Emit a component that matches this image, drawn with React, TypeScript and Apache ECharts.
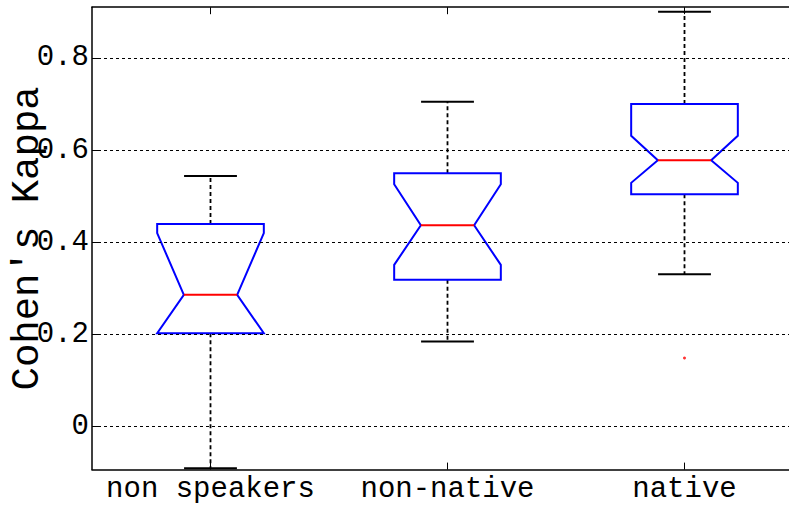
import React, { useEffect, useRef } from 'react';
import * as echarts from 'echarts';

const categories = ['non speakers', 'non-native', 'native'];
const whiskerLow = [-0.09, 0.185, 0.331];
const q1 = [0.203, 0.319, 0.504];
const notchLow = [0.203, 0.351, 0.529];
const median = [0.286, 0.437, 0.578];
const notchHigh = [0.42, 0.526, 0.631];
const q3 = [0.44, 0.55, 0.7];
const whiskerHigh = [0.544, 0.705, 0.9];
const outliers: [number, number][] = [[2, 0.149]];
const yTicks = [0, 0.2, 0.4, 0.6, 0.8];
const yMin = -0.093;
const yMax = 0.91;

const FONT = "'Liberation Mono', 'Courier New', 'DejaVu Sans Mono', monospace";

export default function App() {
  const ref = useRef<HTMLDivElement>(null);
  useEffect(() => {
    document.body.style.margin = '0';
    const chart = echarts.init(ref.current!, null, { renderer: 'svg' });
    const boxData = categories.map((_, i) => [
      i, whiskerLow[i], q1[i], notchLow[i], median[i], notchHigh[i], q3[i], whiskerHigh[i],
    ]);
    const renderItem = (params: any, api: any) => {
      const idx = api.value(0);
      const cx = api.coord([idx, 0])[0];
      const band = api.size([1, 0])[0];
      const y = (v: number) => api.coord([idx, v])[1];
      const hw = band * 0.225;
      const nIn = hw / 2;
      const capW = band * 0.1115;
      const L = cx - hw;
      const R = cx + hw;
      const wLo = y(api.value(1));
      const yq1 = y(api.value(2));
      const nLo = y(api.value(3));
      const med = y(api.value(4));
      const nHi = y(api.value(5));
      const yq3 = y(api.value(6));
      const wHi = y(api.value(7));
      const dashStyle = { stroke: '#000', lineWidth: 1.8, lineDash: [4, 3], fill: null };
      const capStyle = { stroke: '#000', lineWidth: 2 };
      return {
        type: 'group',
        children: [
          { type: 'line', shape: { x1: cx, y1: yq1, x2: cx, y2: wLo }, style: dashStyle },
          { type: 'line', shape: { x1: cx, y1: yq3, x2: cx, y2: wHi }, style: dashStyle },
          { type: 'line', shape: { x1: cx - capW, y1: wLo, x2: cx + capW, y2: wLo }, style: capStyle },
          { type: 'line', shape: { x1: cx - capW, y1: wHi, x2: cx + capW, y2: wHi }, style: capStyle },
          {
            type: 'polygon',
            shape: {
              points: [
                [L, yq1], [R, yq1], [R, nLo], [R - nIn, med], [R, nHi], [R, yq3],
                [L, yq3], [L, nHi], [L + nIn, med], [L, nLo],
              ],
            },
            style: { stroke: '#0000ff', lineWidth: 2, fill: null },
          },
          { type: 'line', shape: { x1: L + nIn, y1: med, x2: R - nIn, y2: med }, style: { stroke: '#ff0000', lineWidth: 2 } },
        ],
      };
    };
    const xAxisCommon = {
      type: 'category',
      data: categories,
      boundaryGap: true,
      axisLine: { show: true, onZero: false, lineStyle: { color: '#000', width: 1.5 } },
      axisTick: { show: true, inside: true, alignWithLabel: true, length: 7, lineStyle: { color: '#000', width: 1 } },
      splitLine: { show: false },
    };
    chart.setOption({
      animation: false,
      grid: { left: 92, top: 7.2, width: 711, height: 462.4, containLabel: false, outerBoundsMode: 'none' },
      xAxis: [
        {
          ...xAxisCommon,
          position: 'bottom',
          axisLabel: { show: true, interval: 0, hideOverlap: false, fontSize: 29, color: '#000', margin: 5, fontFamily: FONT },
        },
        {
          ...xAxisCommon,
          position: 'top',
          axisLabel: { show: false },
        },
      ],
      yAxis: {
        type: 'value',
        min: yMin,
        max: yMax,
        name: "Cohen's Kappa",
        nameLocation: 'middle',
        nameRotate: 90,
        nameGap: 45,
        nameMoveOverlap: false,
        nameTextStyle: { fontSize: 39, color: '#000', fontFamily: FONT },
        axisLine: { show: true, onZero: false, lineStyle: { color: '#000', width: 1.5 } },
        axisTick: { show: true, inside: true, length: 7, customValues: yTicks, lineStyle: { color: '#000', width: 1 } },
        axisLabel: {
          show: true,
          customValues: yTicks,
          fontSize: 29,
          color: '#000',
          margin: 3,
          fontFamily: FONT,
          formatter: (v: number) => (Math.abs(v) < 1e-9 ? '0' : v.toFixed(1)),
        },
        splitLine: { show: false },
      },
      series: [
        {
          type: 'scatter',
          xAxisIndex: 0,
          data: outliers,
          symbol: 'circle',
          symbolSize: 3,
          itemStyle: { color: '#ff0000' },
          z: 4,
          markLine: {
            silent: true,
            symbol: ['none', 'none'],
            label: { show: false },
            lineStyle: { color: '#000', width: 1, type: [3, 3] },
            data: yTicks.map((v) => ({ yAxis: v })),
          },
        },
        {
          type: 'custom',
          xAxisIndex: 0,
          data: boxData,
          renderItem,
          encode: { x: 0, y: [1, 2, 3, 4, 5, 6, 7] },
          z: 3,
        },
      ],
    });
    return () => chart.dispose();
  }, []);
  return <div ref={ref} style={{ position: 'absolute', left: 0, top: 0, width: 789, height: 506 }} />;
}
